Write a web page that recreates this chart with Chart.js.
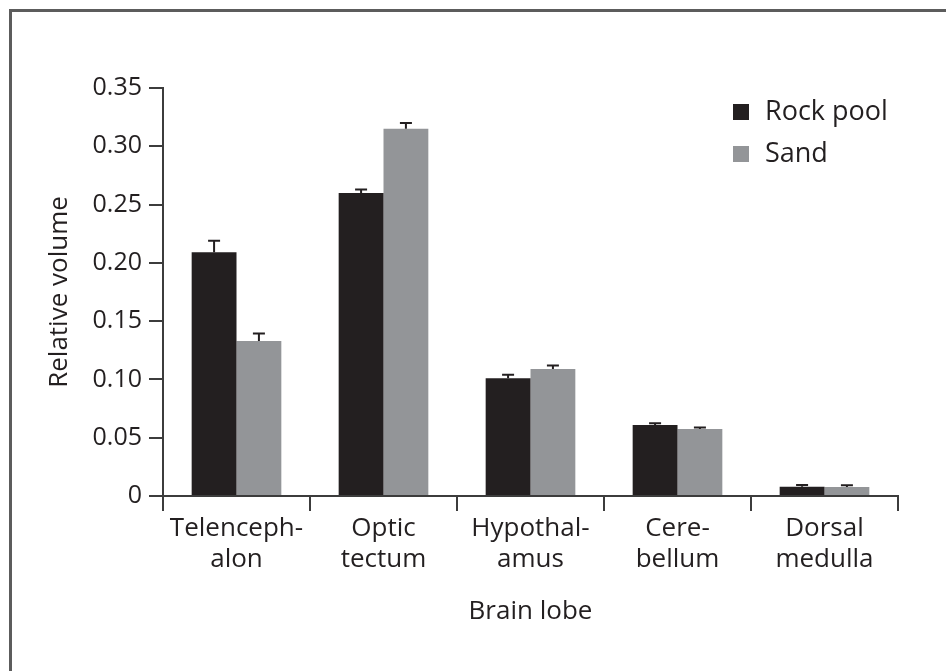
<!DOCTYPE html>
<html>
<head>
<meta charset="utf-8">
<script src="https://cdn.jsdelivr.net/npm/chart.js@4"></script>
<style>
    body { margin: 0; background: #fff; }
    #wrap { position: relative; width: 946px; height: 671px; overflow: hidden; }
    #frame {
        position: absolute; left: 9px; top: 9px; width: 960px; height: 700px;
        border-left: 3px solid #5c5c5c; border-top: 3px solid #5c5c5c;
    }
    canvas { position: absolute; left: 0; top: 0; }
</style>
</head>
<body>
<div id="wrap">
    <div id="frame"></div>
    <canvas id="chartCanvas" width="946" height="671"></canvas>
</div>
<script>
const categories = [
    ["Telenceph-", "alon"],
    ["Optic", "tectum"],
    ["Hypothal-", "amus"],
    ["Cere-", "bellum"],
    ["Dorsal", "medulla"]
];
const rockPool = [0.209, 0.260, 0.101, 0.061, 0.008];
const rockPoolErr = [0.010, 0.003, 0.003, 0.0015, 0.0015];
const sand = [0.133, 0.315, 0.109, 0.0575, 0.0077];
const sandErr = [0.0065, 0.005, 0.003, 0.0012, 0.0015];
const yTicks = [0, 0.05, 0.10, 0.15, 0.20, 0.25, 0.30, 0.35];

const FONT = "'Open Sans', sans-serif";
const TEXT = "#231f20";
const AXIS = "#3c3c3c";

// error bars (top half only), drawn from the y scale
const errorBars = {
    id: "errorBars",
    afterDatasetsDraw(chart) {
        const ctx = chart.ctx;
        const y = chart.scales.y;
        chart.data.datasets.forEach((ds, i) => {
            const meta = chart.getDatasetMeta(i);
            meta.data.forEach((bar, j) => {
                const top = y.getPixelForValue(ds.data[j] + ds.errors[j]);
                ctx.save();
                ctx.strokeStyle = "#231f20";
                ctx.lineWidth = 2;
                ctx.beginPath();
                ctx.moveTo(bar.x, bar.y);
                ctx.lineTo(bar.x, top);
                ctx.moveTo(bar.x - 6, top);
                ctx.lineTo(bar.x + 6, top);
                ctx.stroke();
                ctx.restore();
            });
        });
    }
};

const legendBox = {
    id: "legendBox",
    afterDraw(chart) {
        const ctx = chart.ctx;
        const area = chart.chartArea;
        const x0 = area.right - 165;
        let y0 = area.top + 24;
        ctx.save();
        ctx.font = "27px " + FONT;
        ctx.textBaseline = "middle";
        chart.data.datasets.forEach(ds => {
            ctx.fillStyle = ds.backgroundColor;
            ctx.fillRect(x0, y0 - 8, 16, 16);
            ctx.fillStyle = TEXT;
            ctx.fillText(ds.label, x0 + 32, y0);
            y0 += 42;
        });
        ctx.restore();
    }
};

const ctx = document.getElementById("chartCanvas").getContext("2d");
const chart = new Chart(ctx, {
    type: "bar",
    data: {
        labels: categories,
        datasets: [
            { label: "Rock pool", data: rockPool, errors: rockPoolErr, backgroundColor: "#231f20" },
            { label: "Sand", data: sand, errors: sandErr, backgroundColor: "#939598" }
        ]
    },
    options: {
        responsive: false,
        animation: false,
        layout: { padding: { top: 88, right: 48, left: 0, bottom: 0 } },
        categoryPercentage: 0.61,
        barPercentage: 1.0,
        plugins: {
            legend: { display: false },
            tooltip: { enabled: false }
        },
        scales: {
            x: {
                afterFit: s => { s.height = 175; },
                grid: {
                    offset: true,
                    drawOnChartArea: false,
                    tickLength: 15,
                    color: AXIS,
                    lineWidth: 2
                },
                border: { color: AXIS, width: 2 },
                ticks: { color: TEXT, font: { family: FONT, size: 26, lineHeight: 1.19 }, padding: 2, maxRotation: 0 },
                title: {
                    display: true,
                    text: "Brain lobe",
                    color: TEXT,
                    font: { family: FONT, size: 26 },
                    padding: { top: 0, bottom: 44 }
                }
            },
            y: {
                min: 0,
                max: 0.35,
                afterFit: s => { s.width = 163; },
                afterBuildTicks: s => { s.ticks = yTicks.map(v => ({ value: v })); },
                grid: {
                    drawOnChartArea: false,
                    tickLength: 14,
                    color: AXIS,
                    lineWidth: 2
                },
                border: { color: AXIS, width: 2 },
                ticks: {
                    color: TEXT,
                    padding: 7,
                    font: { family: FONT, size: 25 },
                    callback: v => v === 0 ? "0" : v.toFixed(2)
                },
                title: {
                    display: true,
                    text: "Relative volume",
                    color: TEXT,
                    font: { family: FONT, size: 26 },
                    padding: { top: 44, bottom: 0 }
                }
            }
        }
    },
    plugins: [errorBars, legendBox]
});
</script>
</body>
</html>
